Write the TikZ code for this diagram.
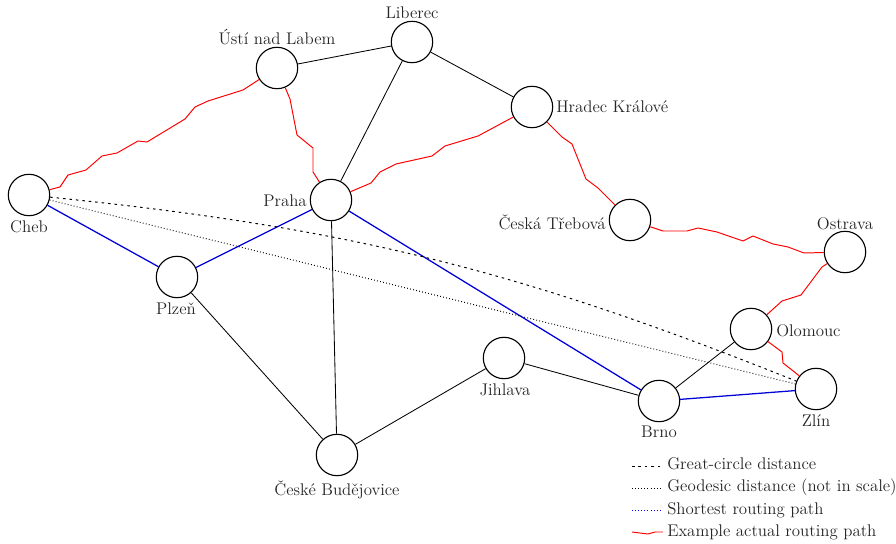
\documentclass[tikz,border=0pt]{standalone}
\usepackage{tikz}
\begin{document}
\begin{tikzpicture}[x=0.025cm,y=-0.025cm,
  font=\fontsize{12}{14}\selectfont,
  city/.style={circle,draw=black,line width=0.8pt,minimum size=1.035cm,inner sep=0pt},
  lbl/.style={inner sep=0pt,text=black!85},
  road/.style={line width=0.6pt,black},
  shortest/.style={line width=0.9pt,blue!85!black},
  actual/.style={line width=0.7pt,red,line join=round},
  greatcircle/.style={line width=0.7pt,dash pattern=on 1.8pt off 2.8pt},
  geodesic/.style={line width=0.7pt,dash pattern=on 0.6pt off 1.6pt},
  keyline/.style={shorten >=3pt}]
\useasboundingbox (0,0) rectangle (896,544);

% cities
\node[city] (cheb)   at (29,195)  {};
\node[city] (plzen)  at (177,277) {};
\node[city] (praha)  at (331,200) {};
\node[city] (usti)   at (277,68)  {};
\node[city] (liberec) at (412,42) {};
\node[city] (hradec) at (532,107) {};
\node[city] (ceskat) at (630,220) {};
\node[city] (ostrava) at (845,252) {};
\node[city] (olomouc) at (751,329) {};
\node[city] (zlin)   at (816,389) {};
\node[city] (brno)   at (659,401) {};
\node[city] (jihlava) at (504,358) {};
\node[city] (cb)     at (337,455) {};

% city names
\node[lbl,anchor=base] (chebL) at (29,233) {Cheb};
\node[lbl,anchor=base] (plzenL) at (176,315) {Plzeň};
\node[lbl,anchor=base east] (prahaL) at (307,207) {Praha};
\node[lbl,anchor=base] (ustiL) at (277,45) {Ústí nad Labem};
\node[lbl,anchor=base] (liberecL) at (412,19) {Liberec};
\node[lbl,anchor=base west] (hradecL) at (556,113) {Hradec Králové};
\node[lbl,anchor=base east] (ceskatL) at (606,230) {Česká Třebová};
\node[lbl,anchor=base] (ostravaL) at (845,230) {Ostrava};
\node[lbl,anchor=base west] (olomoucL) at (776,337) {Olomouc};
\node[lbl,anchor=base] (zlinL) at (816,427) {Zlín};
\node[lbl,anchor=base] (brnoL) at (659,438) {Brno};
\node[lbl,anchor=base] (jihlavaL) at (505,396) {Jihlava};
\node[lbl,anchor=base] (cbL) at (337,496) {České Budějovice};

% road network
\draw[road] (usti) -- (liberec);
\draw[road] (liberec) -- (praha);
\draw[road] (liberec) -- (hradec);
\draw[road] (plzen) -- (cb);
\draw[road] (praha) -- (cb);
\draw[road] (cb) -- (jihlava);
\draw[road] (jihlava) -- (brno);
\draw[road] (brno) -- (olomouc);

% shortest routing path
\draw[shortest] (cheb) -- (plzen);
\draw[shortest] (plzen) -- (praha);
\draw[shortest] (praha) -- (brno);
\draw[shortest] (brno) -- (zlin);

% distances
\draw[greatcircle] (cheb) to[bend left=8] (zlin);
\draw[geodesic] (cheb) -- (zlin);

% example actual routing path
\draw[actual] (cheb) -- (60,187) -- (68,175) -- (86,170) -- (102,156) -- (117,153)
  -- (138,141) -- (147,142) -- (185,119) -- (195,107) -- (208,101) -- (243,90) -- (usti);
\draw[actual] (usti) -- (290,99) -- (297,135) -- (313,148) -- (313,172) -- (praha);
\draw[actual] (praha) -- (371,183) -- (380,172) -- (396,164) -- (432,156) -- (445,146)
  -- (478,136) -- (hradec);
\draw[actual] (hradec) -- (562,137) -- (572,144) -- (586,179) -- (598,188) -- (ceskat);
\draw[actual] (ceskat) -- (663,231) -- (687,231) -- (698,228) -- (717,232) -- (743,241)
  -- (753,236) -- (773,244) -- (788,247) -- (804,253) -- (ostrava);
\draw[actual] (ostrava) -- (822,267) -- (801,295) -- (782,301) -- (olomouc);
\draw[actual] (olomouc) -- (782,352) -- (783,363) -- (zlin);

% legend
\node[lbl,anchor=base west] (leg1) at (667,470) {Great-circle distance};
\node[lbl,anchor=base west] (leg2) at (667,492) {Geodesic distance (not in scale)};
\node[lbl,anchor=base west] (leg3) at (667,514) {Shortest routing path};
\node[lbl,anchor=base west] (leg4) at (667,536) {Example actual routing path};
\coordinate (leg1s) at (632,466);
\coordinate (leg2s) at (632,488);
\coordinate (leg3s) at (632,510);
\coordinate (leg4s) at (632,532);
\draw[greatcircle,keyline] (leg1s) -- (leg1.west |- leg1s);
\draw[geodesic,keyline] (leg2s) -- (leg2.west |- leg2s);
\draw[blue,line width=0.7pt,dash pattern=on 0.6pt off 1.6pt,keyline] (leg3s) -- (leg3.west |- leg3s);
\draw[actual,keyline] (leg4s) -- (640,533) -- (648,534) -- (655,532) -- (leg4.west |- leg4s);
\end{tikzpicture}
\end{document}
